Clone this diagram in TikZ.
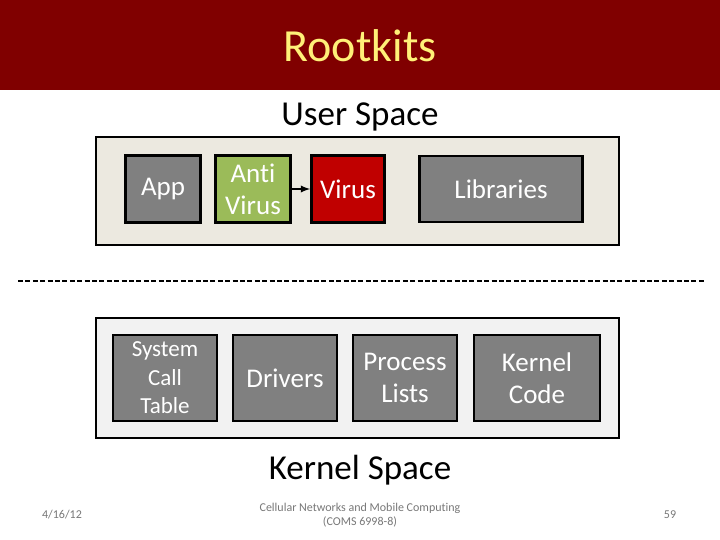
\documentclass[tikz,border=0pt]{standalone}
\usepackage{fontspec}
\setmainfont{Carlito}[Ligatures=NoCommon]
\usetikzlibrary{arrows}

\definecolor{barred}{RGB}{128,0,0}
\definecolor{titleyellow}{RGB}{255,240,120}
\definecolor{userbg}{RGB}{236,233,224}
\definecolor{kernelbg}{RGB}{242,242,242}
\definecolor{boxgray}{RGB}{128,128,128}
\definecolor{antigreen}{RGB}{155,187,89}
\definecolor{virusred}{RGB}{192,0,0}
\definecolor{footgray}{RGB}{120,120,120}

\tikzset{
	area/.style={draw=black, line width=2.6pt},
	part/.style={draw=black, line width=2.6pt, fill=boxgray, text=white, align=center,
		inner sep=0pt, font=\fontsize{27}{32}\selectfont},
	foot/.style={text=footgray, align=center, font=\fontsize{12}{14}\selectfont}
}

\begin{document}
\begin{tikzpicture}[x=1pt,y=-1pt]
	\useasboundingbox (0,0) rectangle (720,540);
	\fill[white] (0,0) rectangle (720,540);

	% title bar
	\fill[barred] (0,0) rectangle (720,90);
	\node[text=titleyellow, font=\fontsize{46}{50}\selectfont] (title) at (360,46) {Rootkits};

	% user space
	\node[font=\fontsize{35}{40}\selectfont] (user) at (360,117) {User Space};
	\draw[area, fill=userbg] (96,137) rectangle (619,245);
	\node[part, minimum width=75pt, minimum height=67pt] (app) at (163,189) {App};
	\node[part, fill=antigreen, minimum width=75pt, minimum height=67pt] (anti) at (253,189) {Anti\\Virus};
	\node[part, fill=virusred, minimum width=73pt, minimum height=67pt] (virus) at (348,189) {Virus};
	\node[part, minimum width=163pt, minimum height=66pt] (libs) at (501,189) {Libraries};
	\draw[-latex, line width=2.2pt] (anti) -- (virus);

	\draw[line width=2.6pt, dash pattern=on 5pt off 2.4pt] (18,281) -- (705,281);

	% kernel space
	\draw[area, fill=kernelbg] (96,318) rectangle (619,438);
	\node[part, minimum width=104pt, minimum height=86pt, font=\fontsize{23}{28.5}\selectfont] (sct) at (165,378) {System\\Call\\Table};
	\node[part, minimum width=104pt, minimum height=86pt] (drivers) at (285,378) {Drivers};
	\node[part, minimum width=104pt, minimum height=86pt] (proc) at (405,378) {Process\\Lists};
	\node[part, minimum width=126pt, minimum height=86pt] (kcode) at (537,378) {Kernel\\Code};
	\node[font=\fontsize{35}{40}\selectfont] (kernel) at (360,470) {Kernel Space};

	% footer
	\node[foot] (date) at (62,515) {4/16/12};
	\node[foot] (course) at (360,515) {Cellular Networks and Mobile Computing\\(COMS 6998-8)};
	\node[foot] (page) at (670,515) {59};
\end{tikzpicture}
\end{document}
